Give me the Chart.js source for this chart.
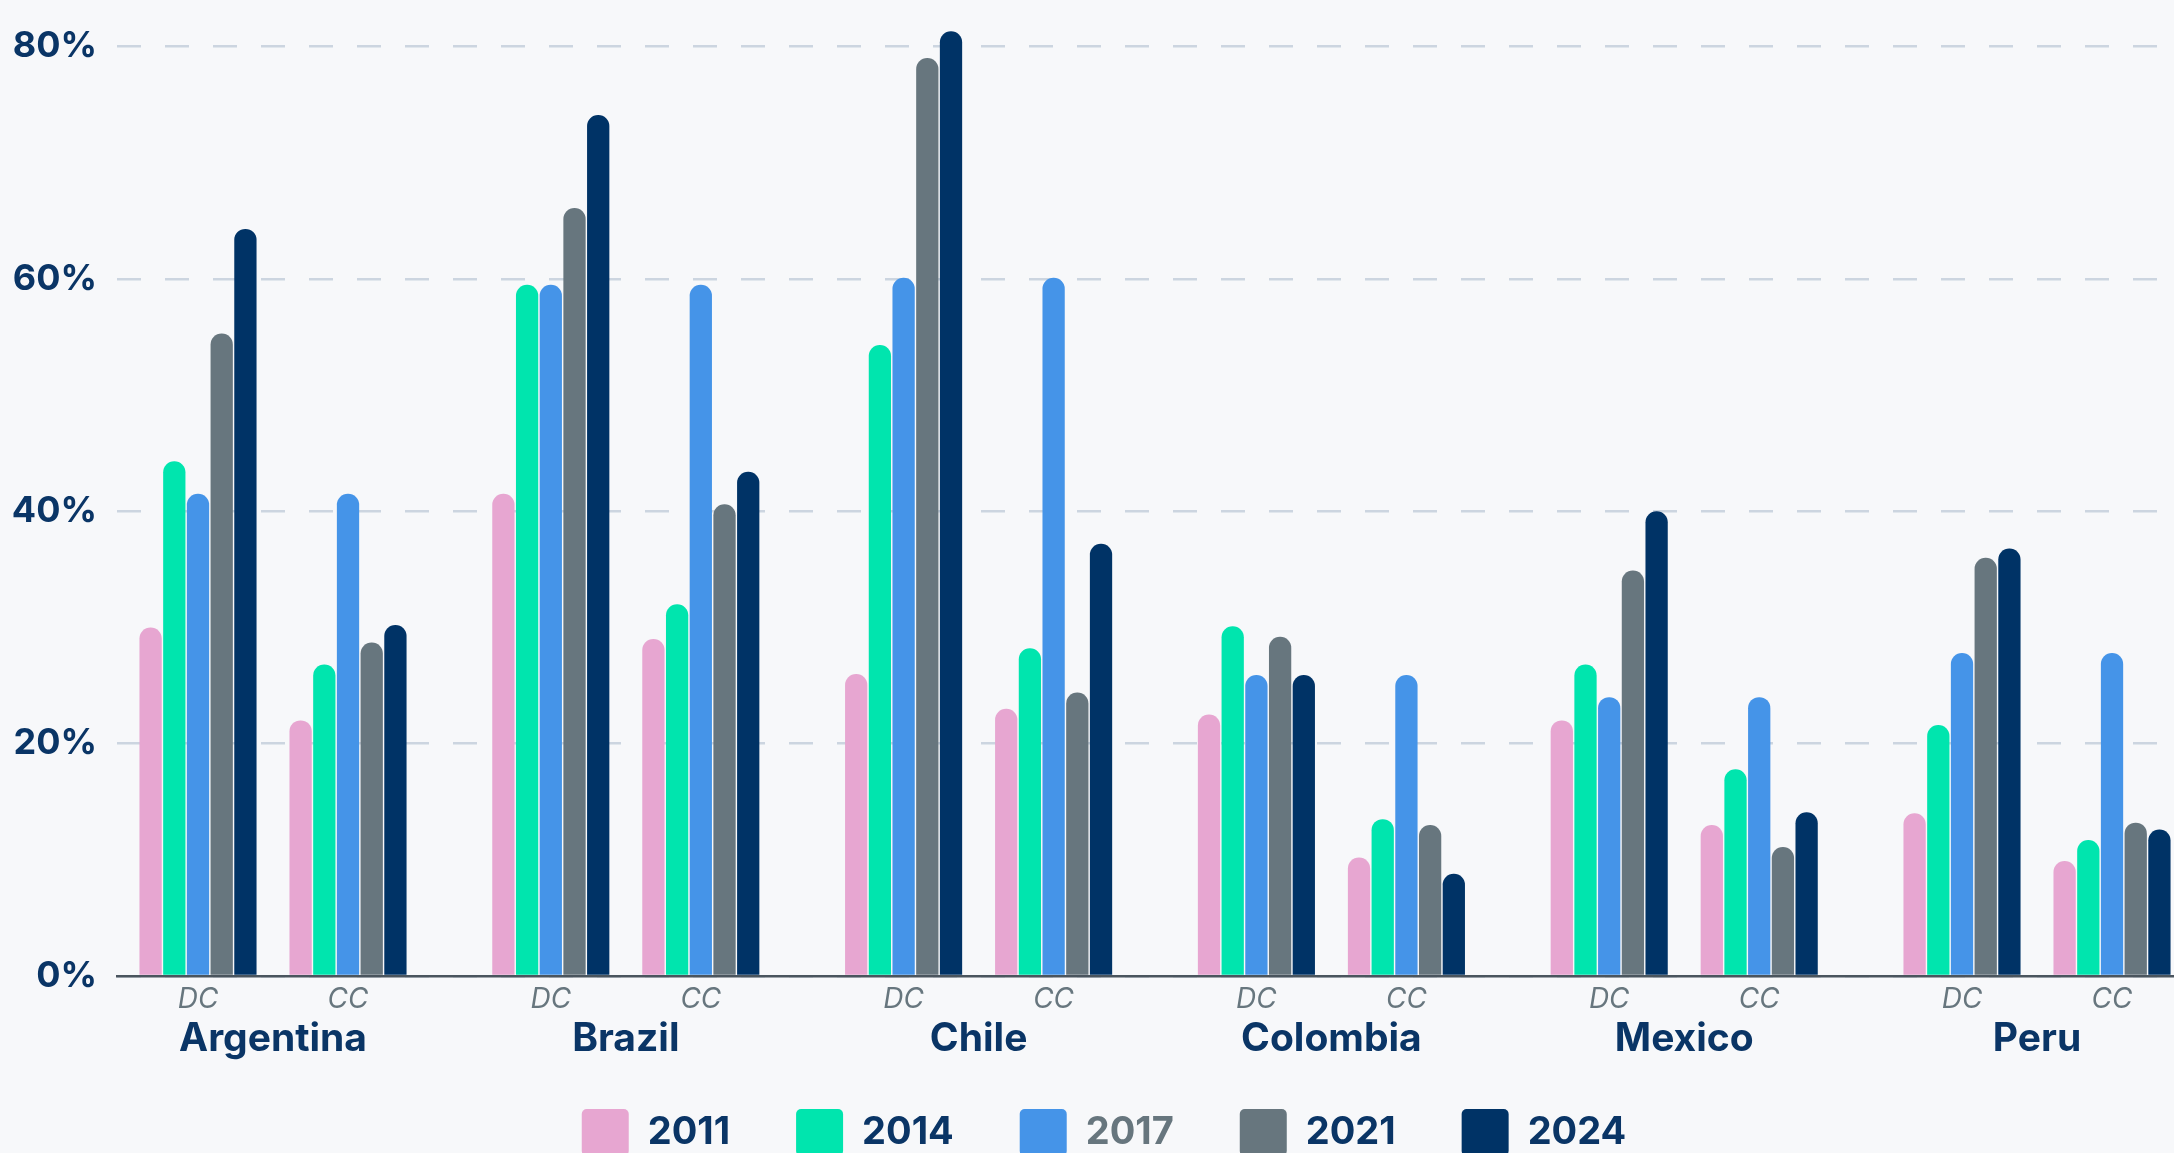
<!DOCTYPE html>
<html>
<head>
<meta charset="utf-8">
<script src="https://cdn.jsdelivr.net/npm/chart.js@4/dist/chart.umd.min.js"></script>
<style>
  html, body { margin: 0; padding: 0; background: #f7f8fa; overflow: hidden; }
  canvas { display: block; }
</style>
</head>
<body>
<canvas id="chart" width="2227" height="1166"></canvas>
<script>
// data, in %; order: Argentina DC, CC, Brazil DC, CC ...
const countries = ['Argentina', 'Brazil', 'Chile', 'Colombia', 'Mexico', 'Peru'];
const segments = ['DC', 'CC'];
const years = ['2011', '2014', '2017', '2021', '2024'];

const v2011 = [30, 22, 41.5, 29, 26, 23, 22.5, 10.2, 22, 13, 14, 9.9];
const v2014 = [44.3, 26.8, 59.5, 32, 54.3, 28.2, 30.1, 13.5, 26.8, 17.8, 21.6, 11.7];
const v2017 = [41.5, 41.5, 59.5, 59.5, 60.1, 60.1, 25.9, 25.9, 24, 24, 27.8, 27.8];
const v2021 = [55.3, 28.7, 66.1, 40.6, 79, 24.4, 29.2, 13, 34.9, 11.1, 36, 13.2];
const v2024 = [64.3, 30.2, 74.1, 43.4, 81.3, 37.2, 25.9, 8.8, 40, 14.1, 36.8, 12.6];

const yTicks = [0, 20, 40, 60, 80];

const seriesValues = [v2011, v2014, v2017, v2021, v2024];
const colors = ['#e7a6d1', '#00e5ae', '#4594e8', '#67767e', '#003366'];

const navy = '#0a3566';
const slate = '#67767e';
const font = 'Inter, "Noto Sans", sans-serif';

// DC / CC sit either side of the country centre
const SEG_OFFSET = 0.2126;
const X_MIN = -0.4422, X_MAX = 5.5385;
const xPos = (i) => Math.floor(i / 2) + (i % 2 ? SEG_OFFSET : -SEG_OFFSET);
const positions = v2011.map((v, i) => xPos(i));

const datasets = years.map((year, k) => ({
    label: year,
    xAxisID: 'x',
    data: seriesValues[k].map((v, i) => ({x: positions[i], y: v})),
    backgroundColor: colors[k],
    borderWidth: 0,
    borderRadius: {topLeft: 11, topRight: 11, bottomLeft: 0, bottomRight: 0},
    borderSkipped: 'bottom',
    categoryPercentage: 0.79,
    barPercentage: 0.94
}));

const legendLabels = (chart) => {
    const items = Chart.defaults.plugins.legend.labels.generateLabels(chart);
    items.forEach((item) => {
        item.fontColor = item.text === '2017' ? slate : navy;
        item.text = item.text + '\u2002';
        item.lineWidth = 0;
        item.borderRadius = 5;
    });
    return items;
}

const ctx = document.getElementById('chart').getContext('2d');
new Chart(ctx, {
    type: 'bar',
    data: {datasets: datasets},
    options: {
        responsive: false,
        animation: false,
        events: [],
        layout: {padding: 0},
        scales: {
            x: {
                type: 'linear',
                position: 'bottom',
                offset: false,
                min: X_MIN,
                max: X_MAX,
                afterBuildTicks: (s) => { s.ticks = positions.map((p) => ({value: p})); },
                afterFit: (s) => { s.height = 38; },
                ticks: {
                    autoSkip: false,
                    maxRotation: 0,
                    padding: 7,
                    color: slate,
                    font: {family: font, size: 28, style: 'italic'},
                    callback: (v, i) => segments[i % 2]
                },
                grid: {display: false, drawTicks: false},
                border: {display: true, color: '#4a555e', width: 2.5}
            },
            x2: {
                type: 'linear',
                position: 'bottom',
                offset: false,
                min: X_MIN,
                max: X_MAX,
                afterBuildTicks: (s) => { s.ticks = countries.map((c, i) => ({value: i})); },
                afterFit: (s) => { s.height = 48; },
                ticks: {
                    autoSkip: false,
                    maxRotation: 0,
                    padding: 2,
                    color: navy,
                    font: {family: font, size: 39, weight: 'bold'},
                    callback: (v, i) => countries[i]
                },
                grid: {display: false, drawTicks: false},
                border: {display: false}
            },
            y: {
                min: 0,
                max: 84,
                afterBuildTicks: (s) => { s.ticks = yTicks.map((v) => ({value: v})); },
                afterFit: (s) => { s.width = 117; s.paddingTop = 0; s.paddingBottom = 0; },
                ticks: {
                    padding: 20,
                    color: navy,
                    font: {family: font, size: 36, weight: 'bold'},
                    callback: (v) => v + '%'
                },
                grid: {color: '#ccd5e0', lineWidth: 2.5, drawTicks: false},
                border: {display: false, dash: [24, 24]}
            }
        },
        plugins: {
            legend: {
                position: 'bottom',
                labels: {
                    boxWidth: 47,
                    boxHeight: 47,
                    padding: 47,
                    useBorderRadius: true,
                    borderRadius: 5,
                    color: navy,
                    font: {family: font, size: 38, weight: 'bold'},
                    generateLabels: legendLabels
                }
            },
            tooltip: {enabled: false}
        }
    }
});
</script>
</body>
</html>
